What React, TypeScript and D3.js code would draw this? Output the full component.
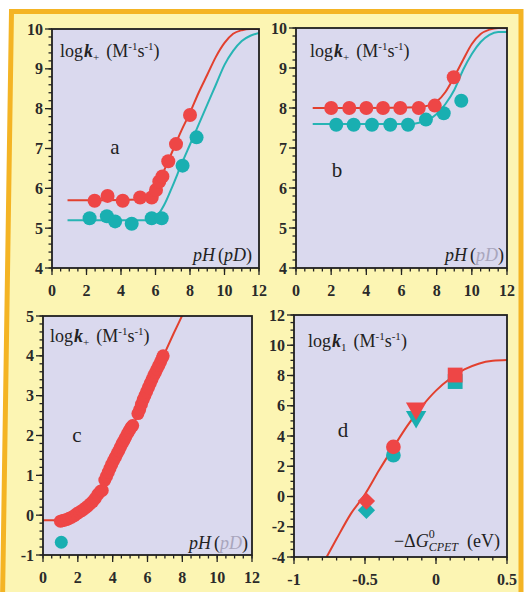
import * as d3 from "d3";

// ---- panel a: log k+ vs pH ----
const aRedPH = [2.47, 3.22, 4.1, 5.11, 5.78, 6.03, 6.22, 6.4, 6.74, 7.19, 8.0];
const aRedK = [5.69, 5.81, 5.69, 5.77, 5.77, 5.96, 6.17, 6.3, 6.68, 7.11, 7.84];
const aTealPH = [2.18, 3.18, 3.66, 4.62, 5.78, 6.36, 7.57, 8.38];
const aTealK = [5.25, 5.3, 5.17, 5.11, 5.25, 5.25, 6.57, 7.28];
const aRedFitPH = [0.9, 3, 5, 5.5, 6, 6.5, 7, 7.5, 8, 8.5, 9, 9.5, 10, 10.5, 11, 11.5, 12];
const aRedFitK = [5.7, 5.7, 5.72, 5.8, 6.0, 6.45, 6.95, 7.45, 7.9, 8.4, 8.85, 9.3, 9.65, 9.88, 9.97, 10, 10];
const aTealFitPH = [0.9, 3, 5.5, 6, 6.5, 7, 7.5, 8, 8.5, 9, 9.5, 10, 10.5, 11, 11.5, 12];
const aTealFitK = [5.2, 5.2, 5.2, 5.27, 5.58, 6.07, 6.6, 7.1, 7.6, 8.1, 8.6, 9.1, 9.45, 9.7, 9.83, 9.9];

// ---- panel b ----
const bRedPH = [2.0, 3.03, 4.0, 4.95, 5.93, 6.98, 7.89, 8.97];
const bRedK = [8.0, 8.0, 8.0, 8.0, 8.0, 8.0, 8.06, 8.77];
const bTealPH = [2.29, 3.28, 4.32, 5.36, 6.37, 7.39, 8.4, 9.4];
const bTealK = [7.58, 7.58, 7.58, 7.58, 7.58, 7.71, 7.87, 8.18];
const bRedFitPH = [0.95, 4, 7, 7.5, 8, 8.5, 9, 9.5, 10, 10.5, 11, 11.5, 12];
const bRedFitK = [8.0, 8.0, 8.02, 8.06, 8.16, 8.4, 8.78, 9.2, 9.6, 9.85, 9.96, 10, 10];
const bTealFitPH = [0.95, 4, 6.5, 7, 7.5, 8, 8.5, 9, 9.5, 10, 10.5, 11, 11.5, 12];
const bTealFitK = [7.6, 7.6, 7.6, 7.63, 7.7, 7.85, 8.1, 8.45, 8.95, 9.35, 9.65, 9.83, 9.9, 9.9];

// ---- panel c ----
const cRedPH = [1.0, 1.1, 1.2, 1.35, 1.5, 1.65, 1.8, 1.95, 2.1, 2.25, 2.4, 2.55, 2.7, 2.85, 3.0, 3.15, 3.3, 3.4,
  3.55, 3.65, 3.75, 3.85, 3.95, 4.05, 4.15, 4.25, 4.35, 4.45, 4.55, 4.65, 4.75, 4.85, 4.95, 5.05, 5.15,
  5.45, 5.55, 5.65, 5.75, 5.85, 5.95, 6.05, 6.15, 6.25, 6.35, 6.45, 6.55, 6.65, 6.75, 6.85, 6.9];
const cRedK = [-0.15, -0.14, -0.13, -0.11, -0.08, -0.05, -0.01, 0.04, 0.08, 0.12, 0.17, 0.22, 0.28, 0.34, 0.42, 0.52, 0.6, 0.62,
  0.88, 0.98, 1.08, 1.18, 1.28, 1.37, 1.45, 1.54, 1.62, 1.71, 1.8, 1.88, 1.96, 2.05, 2.12, 2.2, 2.25,
  2.55, 2.65, 2.78, 2.9, 3.0, 3.1, 3.2, 3.3, 3.4, 3.5, 3.58, 3.67, 3.76, 3.85, 3.95, 4.0];
const cTealPH = [1.05];
const cTealK = [-0.68];
const cFitPH = [0, 0.5, 1, 1.5, 2, 2.5, 3, 3.5, 4, 4.5, 5, 5.5, 6, 6.5, 7, 7.5, 8, 8.3];
const cFitK = [-0.13, -0.13, -0.13, -0.08, 0.05, 0.21, 0.45, 0.83, 1.28, 1.72, 2.12, 2.57, 3.07, 3.58, 4.08, 4.56, 5.02, 5.3];

// ---- panel d: log k1 vs -ΔG ----
const dShapes = ["diamond", "circle", "triangle", "square"];
const dDG = [-0.49, -0.3, -0.14, 0.135];
const dRedK = [-0.3, 3.28, 5.82, 8.03];
const dTealK = [-0.91, 2.73, 5.27, 7.6];
const dFitDG = [-0.77, -0.7, -0.6, -0.5, -0.4, -0.3, -0.2, -0.1, 0, 0.1, 0.2, 0.3, 0.4, 0.5];
const dFitK = [-4, -2.8, -1.15, 0.15, 1.75, 3.25, 4.7, 5.95, 7.0, 7.8, 8.4, 8.78, 8.97, 9.02];

const RED = "#ee4646";
const TEAL = "#19afb1";
const RED_LINE = "#e2402e";
const TEAL_LINE = "#27b4b4";
const PLOT_BG = "#dad9ee";
const SERIF = "'Liberation Serif', 'DejaVu Serif', serif";

type Box = { left: number; right: number; top: number; bottom: number };

function range(a: number, b: number, step: number) {
  const out: number[] = [];
  const n = Math.round((b - a) / step);
  for (let i = 0; i <= n; i++) out.push(+(a + i * step).toFixed(6));
  return out;
}

function Frame({ id, box, x, y, xTicks, xMinor, yTicks, yMinor, fmtX, children }: {
  id: string; box: Box;
  x: d3.ScaleLinear<number, number>; y: d3.ScaleLinear<number, number>;
  xTicks: number[]; xMinor: number[]; yTicks: number[]; yMinor: number[];
  fmtX?: (v: number) => string; children?: any;
}) {
  const fx = fmtX ?? ((v: number) => String(v));
  return (
    <g>
      <clipPath id={id}>
        <rect x={box.left} y={box.top} width={box.right - box.left} height={box.bottom - box.top} />
      </clipPath>
      <rect x={box.left} y={box.top} width={box.right - box.left} height={box.bottom - box.top} fill={PLOT_BG} />
      <g clipPath={`url(#${id})`}>{children}</g>
      <rect x={box.left} y={box.top} width={box.right - box.left} height={box.bottom - box.top}
        fill="none" stroke="#1f1f1f" strokeWidth={1.8} />
      <g stroke="#222" strokeWidth={1.3}>
        {xMinor.map((v, i) => <line key={"xm" + i} x1={x(v)} x2={x(v)} y1={box.bottom} y2={box.bottom + 3.5} />)}
        {xTicks.map((v, i) => <line key={"xt" + i} x1={x(v)} x2={x(v)} y1={box.bottom} y2={box.bottom + 7} />)}
        {yMinor.map((v, i) => <line key={"ym" + i} x1={box.left - 3.5} x2={box.left} y1={y(v)} y2={y(v)} />)}
        {yTicks.map((v, i) => <line key={"yt" + i} x1={box.left - 7} x2={box.left} y1={y(v)} y2={y(v)} />)}
      </g>
      <g fontFamily={SERIF} fontWeight="bold" fontSize={16} fill="#2a2a2a">
        {xTicks.map((v, i) => (
          <text key={"xl" + i} x={x(v)} y={box.bottom + 28} textAnchor="middle">{fx(v)}</text>
        ))}
        {yTicks.map((v, i) => (
          <text key={"yl" + i} x={box.left - 9} y={y(v) + 5.5} textAnchor="end">{v}</text>
        ))}
      </g>
    </g>
  );
}

function fitPath(xs: number[], ys: number[], x: d3.ScaleLinear<number, number>, y: d3.ScaleLinear<number, number>) {
  const pts: [number, number][] = xs.map((v, i) => [v, ys[i]]);
  return d3.line<[number, number]>().x(d => x(d[0])).y(d => y(d[1])).curve(d3.curveMonotoneX)(pts) || undefined;
}

function Dots({ xs, ys, x, y, color, r = 7 }: {
  xs: number[]; ys: number[]; x: d3.ScaleLinear<number, number>; y: d3.ScaleLinear<number, number>; color: string; r?: number;
}) {
  return (
    <g fill={color}>
      {xs.map((v, i) => <circle key={i} cx={x(v)} cy={y(ys[i])} r={r} />)}
    </g>
  );
}

function KLabel({ x, y, sub }: { x: number; y: number; sub: string }) {
  return (
    <text x={x} y={y} fontFamily={SERIF} fontSize={18} fill="#222">
      log
      <tspan fontStyle="italic" fontWeight="bold" dx={1}>k</tspan>
      <tspan fontSize={11} dy={4}>{sub}</tspan>
      <tspan dy={-4} dx={7}>(M</tspan>
      <tspan fontSize={11} dy={-7}>-1</tspan>
      <tspan dy={7}>s</tspan>
      <tspan fontSize={11} dy={-7}>-1</tspan>
      <tspan dy={7}>)</tspan>
    </text>
  );
}

function PHLabel({ x, y, grey }: { x: number; y: number; grey: boolean }) {
  return (
    <text x={x} y={y} fontFamily={SERIF} fontSize={18} fontStyle="italic" textAnchor="end" fill="#222">
      pH
      <tspan fontStyle="normal" dx={3}>(</tspan>
      <tspan fill={grey ? "#a9a6bd" : "#222"}>pD</tspan>
      <tspan fontStyle="normal">)</tspan>
    </text>
  );
}

export default function App() {
  const boxA: Box = { left: 52, right: 259, top: 29, bottom: 268 };
  const boxB: Box = { left: 296, right: 507, top: 28, bottom: 268 };
  const boxC: Box = { left: 43, right: 252, top: 316, bottom: 555 };
  const boxD: Box = { left: 294, right: 507, top: 315, bottom: 557 };

  const xA = d3.scaleLinear().domain([0, 12]).range([boxA.left, boxA.right]);
  const yA = d3.scaleLinear().domain([4, 10]).range([boxA.bottom, boxA.top]);
  const xB = d3.scaleLinear().domain([0, 12]).range([boxB.left, boxB.right]);
  const yB = d3.scaleLinear().domain([4, 10]).range([boxB.bottom, boxB.top]);
  const xC = d3.scaleLinear().domain([0, 12]).range([boxC.left, boxC.right]);
  const yC = d3.scaleLinear().domain([-1, 5]).range([boxC.bottom, boxC.top]);
  const xD = d3.scaleLinear().domain([-1, 0.5]).range([boxD.left, boxD.right]);
  const yD = d3.scaleLinear().domain([-4, 12]).range([boxD.bottom, boxD.top]);

  const phTicks = range(0, 12, 2);
  const phMinor = range(0, 12, 0.5);

  const symbolFor = (s: string) =>
    s === "square" ? d3.symbolSquare : s === "triangle" ? d3.symbolTriangle : s === "circle" ? d3.symbolCircle : d3.symbolSquare;
  const rotFor = (s: string) => (s === "triangle" ? 180 : s === "diamond" ? 45 : 0);
  const sizeFor = (s: string) => (s === "triangle" ? 180 : s === "circle" ? 170 : s === "diamond" ? 150 : 220);

  return (
    <svg width={526} height={592} style={{ position: "absolute", left: 0, top: 0 }}>
      <rect x={0} y={0} width={526} height={592} fill="#ffffff" />
      <path d="M11.5,11.5 L521,11.5 L521,600 L2.5,600 Z" fill="#fcf5b3" stroke="#f4b424" strokeWidth={5} />

      {/* a */}
      <Frame id="clipA" box={boxA} x={xA} y={yA} xTicks={phTicks} xMinor={phMinor}
        yTicks={range(4, 10, 1)} yMinor={range(4, 10, 0.2)}>
        <path d={fitPath(aRedFitPH, aRedFitK, xA, yA)} fill="none" stroke={RED_LINE} strokeWidth={2} />
        <path d={fitPath(aTealFitPH, aTealFitK, xA, yA)} fill="none" stroke={TEAL_LINE} strokeWidth={2} />
        <Dots xs={aTealPH} ys={aTealK} x={xA} y={yA} color={TEAL} />
        <Dots xs={aRedPH} ys={aRedK} x={xA} y={yA} color={RED} />
      </Frame>
      <KLabel x={60} y={57} sub="+" />
      <text x={115} y={154} fontFamily={SERIF} fontSize={21} textAnchor="middle" fill="#222">a</text>
      <PHLabel x={252} y={261} grey={false} />

      {/* b */}
      <Frame id="clipB" box={boxB} x={xB} y={yB} xTicks={phTicks} xMinor={phMinor}
        yTicks={range(4, 10, 1)} yMinor={range(4, 10, 0.2)}>
        <path d={fitPath(bRedFitPH, bRedFitK, xB, yB)} fill="none" stroke={RED_LINE} strokeWidth={2} />
        <path d={fitPath(bTealFitPH, bTealFitK, xB, yB)} fill="none" stroke={TEAL_LINE} strokeWidth={2} />
        <Dots xs={bTealPH} ys={bTealK} x={xB} y={yB} color={TEAL} />
        <Dots xs={bRedPH} ys={bRedK} x={xB} y={yB} color={RED} />
      </Frame>
      <KLabel x={310} y={57} sub="+" />
      <text x={337} y={177} fontFamily={SERIF} fontSize={21} textAnchor="middle" fill="#222">b</text>
      <PHLabel x={504} y={261} grey={true} />

      {/* c */}
      <Frame id="clipC" box={boxC} x={xC} y={yC} xTicks={phTicks} xMinor={phMinor}
        yTicks={range(-1, 5, 1)} yMinor={range(-1, 5, 0.2)}>
        <path d={fitPath(cFitPH, cFitK, xC, yC)} fill="none" stroke={RED_LINE} strokeWidth={2} />
        <Dots xs={cRedPH} ys={cRedK} x={xC} y={yC} color={RED} r={6.5} />
        <Dots xs={cTealPH} ys={cTealK} x={xC} y={yC} color={TEAL} r={6.5} />
      </Frame>
      <KLabel x={50} y={342} sub="+" />
      <text x={77} y={442} fontFamily={SERIF} fontSize={21} textAnchor="middle" fill="#222">c</text>
      <PHLabel x={248} y={549} grey={true} />

      {/* d */}
      <Frame id="clipD" box={boxD} x={xD} y={yD} xTicks={[-1, -0.5, 0, 0.5]} xMinor={range(-1, 0.5, 0.1)}
        yTicks={range(-4, 12, 2)} yMinor={range(-4, 12, 0.5)}>
        <path d={fitPath(dFitDG, dFitK, xD, yD)} fill="none" stroke={RED_LINE} strokeWidth={2} />
        {dShapes.map((s, i) => (
          <path key={"t" + i} fill={TEAL}
            transform={`translate(${xD(dDG[i])},${yD(dTealK[i])}) rotate(${rotFor(s)})`}
            d={d3.symbol().type(symbolFor(s)).size(sizeFor(s))() || undefined} />
        ))}
        {dShapes.map((s, i) => (
          <path key={"r" + i} fill={RED}
            transform={`translate(${xD(dDG[i])},${yD(dRedK[i])}) rotate(${rotFor(s)})`}
            d={d3.symbol().type(symbolFor(s)).size(sizeFor(s))() || undefined} />
        ))}
      </Frame>
      <KLabel x={308} y={347} sub="1" />
      <text x={343} y={437} fontFamily={SERIF} fontSize={21} textAnchor="middle" fill="#222">d</text>
      <text x={500} y={547} fontFamily={SERIF} fontSize={18} textAnchor="end" fill="#222">
        −Δ
        <tspan fontStyle="italic">G</tspan>
        <tspan fontSize={12} dy={-9}>0</tspan>
        <tspan fontSize={12} fontStyle="italic" dx={-6} dy={13}>CPET</tspan>
        <tspan dy={-4} dx={9}>(eV)</tspan>
      </text>
    </svg>
  );
}
